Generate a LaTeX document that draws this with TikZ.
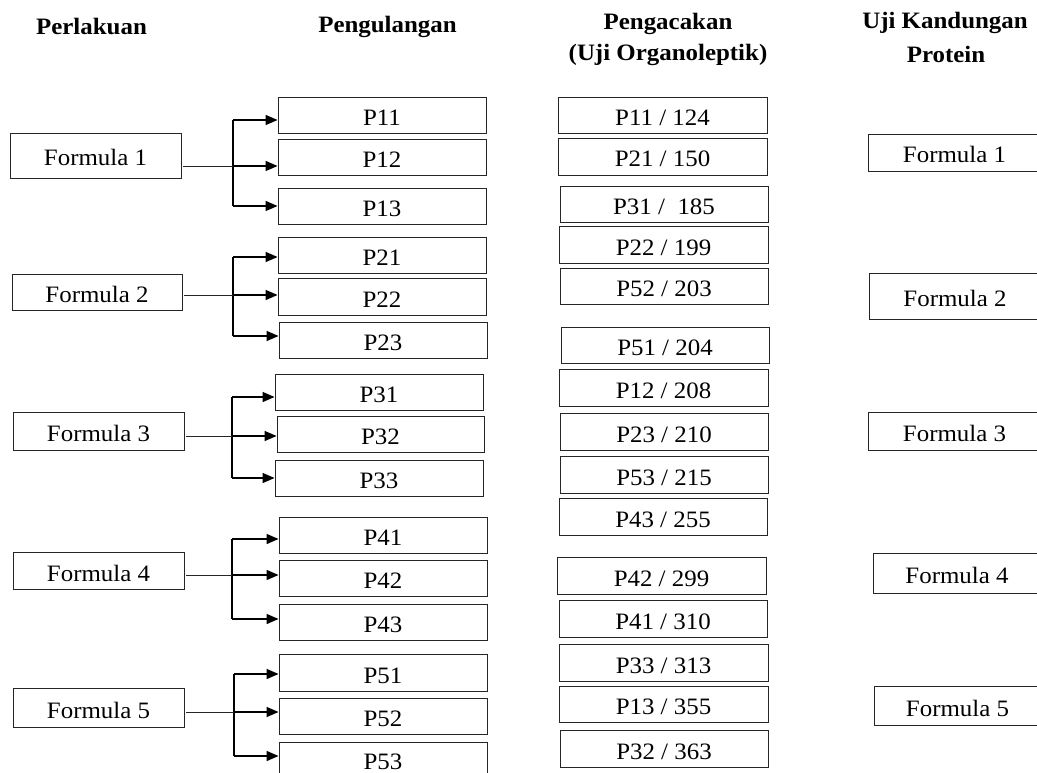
\documentclass[tikz,border=0pt]{standalone}
\usepackage{fontspec}
\setmainfont{Liberation Serif}[FakeStretch=1.06]
\usetikzlibrary{arrows.meta}

% box: name, left, top, right, bottom, text  (pixel-like units, y downwards)
\newcommand\bx[6]{%
  \node[box, minimum width={#4-#2}, minimum height={#5-#3}] (#1)
    at ({(#2+#4)/2},{(#3+#5)/2}) {#6};}

\begin{document}
\begin{tikzpicture}[x=1pt, y=-1pt,
  box/.style={draw=black!85, line width=0.9pt, rectangle, inner sep=0pt,
              text height=21pt, text depth=0pt, align=center},
  head/.style={font=\bfseries, anchor=base, inner sep=0pt},
  trunk/.style={line width=1.5pt},
  arr/.style={line width=1.5pt, -{Triangle[length=12pt,width=10pt]}},
  link/.style={line width=0.8pt, black!85},
]
\fontsize{23.5}{28}\selectfont
\useasboundingbox (0,0) rectangle (1037,773);

% column headings
\node[head] (h1) at (91.5,35) {Perlakuan};
\node[head] (h2) at (387.5,33) {Pengulangan};
\node[head] (h3a) at (668,30) {Pengacakan};
\node[head] (h3b) at (668,61) {(Uji Organoleptik)};
\node[head] (h4a) at (945,29) {Uji Kandungan};
\node[head] (h4b) at (946,63) {Protein};

% treatments
\bx{f1}{10}{133}{181}{178}{Formula 1}
\bx{f2}{12}{274}{182}{310}{Formula 2}
\bx{f3}{13}{412}{184}{450}{Formula 3}
\bx{f4}{13}{552}{184}{589}{Formula 4}
\bx{f5}{13}{688}{184}{727}{Formula 5}

% replications
\bx{p11}{278}{97}{486}{133}{P11}
\bx{p12}{278}{139}{486}{175}{P12}
\bx{p13}{278}{188}{486}{224}{P13}
\bx{p21}{278}{237}{486}{273}{P21}
\bx{p22}{278}{278}{486}{315}{P22}
\bx{p23}{279}{322}{487}{358}{P23}
\bx{p31}{275}{374}{483}{410}{P31}
\bx{p32}{277}{416}{484}{452}{P32}
\bx{p33}{275}{460}{483}{496}{P33}
\bx{p41}{279}{517}{487}{553}{P41}
\bx{p42}{279}{560}{487}{596}{P42}
\bx{p43}{279}{604}{487}{640}{P43}
\bx{p51}{279}{654}{487}{691}{P51}
\bx{p52}{279}{698}{487}{734}{P52}
\bx{p53}{279}{742}{487}{776}{P53}

% randomised order (organoleptic test)
\bx{r1}{558}{97}{767}{133}{P11 / 124}
\bx{r2}{558}{138}{767}{175}{P21 / 150}
\bx{r3}{560}{186}{768}{222}{P31 / \ 185}
\bx{r4}{559}{226}{768}{263}{P22 / 199}
\bx{r5}{560}{268}{768}{304}{P52 / 203}
\bx{r6}{561}{327}{769}{363}{P51 / 204}
\bx{r7}{559}{369}{768}{406}{P12 / 208}
\bx{r8}{560}{413}{768}{450}{P23 / 210}
\bx{r9}{560}{456}{768}{493}{P53 / 215}
\bx{r10}{559}{498}{767}{535}{P43 / 255}
\bx{r11}{557}{557}{766}{594}{P42 / 299}
\bx{r12}{559}{600}{767}{637}{P41 / 310}
\bx{r13}{559}{644}{768}{681}{P33 / 313}
\bx{r14}{559}{686}{768}{722}{P13 / 355}
\bx{r15}{560}{730}{768}{767}{P32 / 363}

% protein content test
\bx{k1}{868}{134}{1041}{171}{Formula 1}
\bx{k2}{869}{273}{1041}{319}{Formula 2}
\bx{k3}{868}{412}{1041}{450}{Formula 3}
\bx{k4}{873}{553}{1041}{593}{Formula 4}
\bx{k5}{874}{686}{1041}{725}{Formula 5}

% branching connectors from each treatment to its replications
\foreach \g/\tx/\ya/\yb/\yc in {1/233/120/166/206, 2/233/257/295/336,
    3/232/397/436/478, 4/232/539/575/619, 5/234/674/712/756} {
  \coordinate (g\g a) at (\tx,\ya);
  \coordinate (g\g b) at (\tx,\yb);
  \coordinate (g\g c) at (\tx,\yc);
  \draw[trunk] (g\g a) -- (g\g c);
  \draw[link, shorten <=2pt] (f\g.east |- g\g b) -- (g\g b);
  \draw[arr] (g\g a) -- (g\g a -| p\g 1.west);
  \draw[arr] (g\g b) -- (g\g b -| p\g 2.west);
  \draw[arr] (g\g c) -- (g\g c -| p\g 3.west);
}
\end{tikzpicture}
\end{document}
